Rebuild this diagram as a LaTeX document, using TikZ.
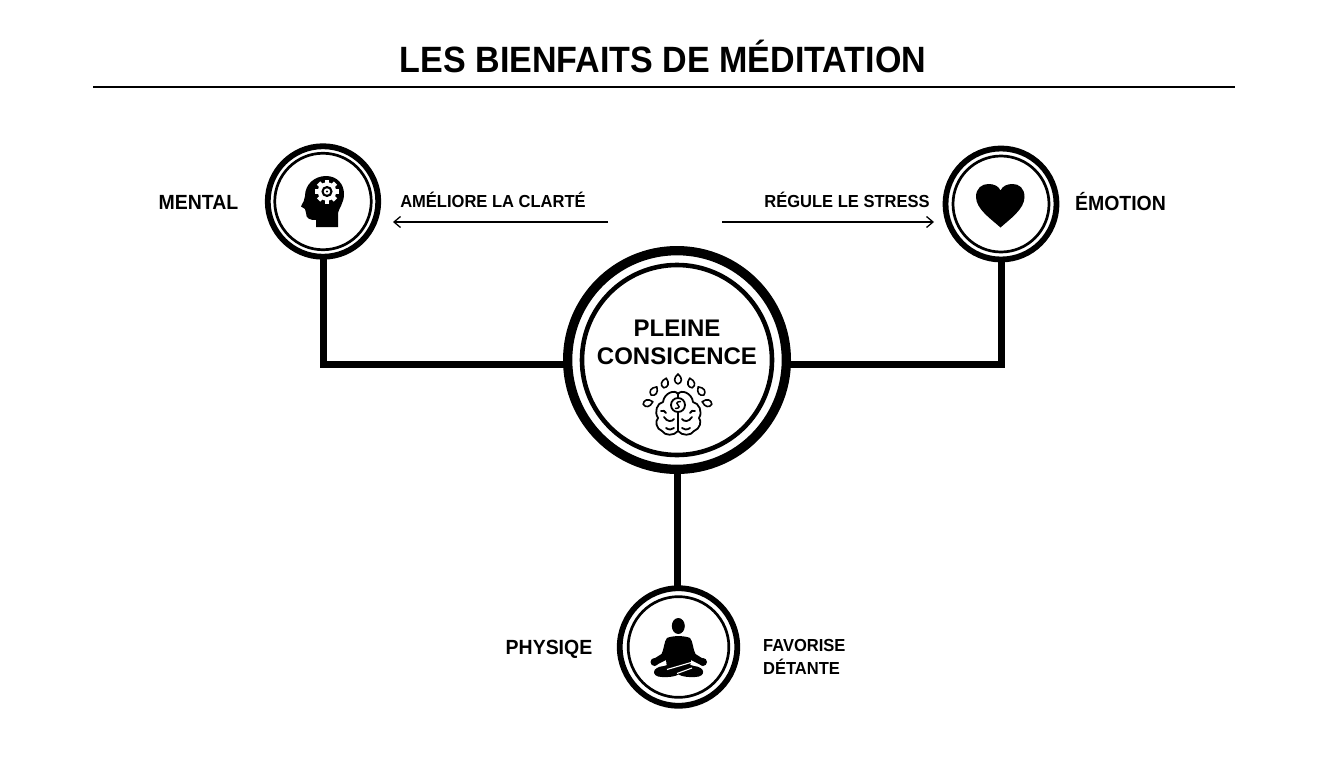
\documentclass[tikz,border=0pt]{standalone}
\usepackage{fontspec}
\setmainfont{Liberation Sans}
\newfontfamily\tallfont[FakeStretch=0.93]{Liberation Sans}
\newfontfamily\labelfont[FakeStretch=0.95]{Liberation Sans}
\usetikzlibrary{arrows.meta,calc}
\tikzset{
  x=1pt,y=-1pt,
  outerring/.style={circle,draw=black,fill=white,inner sep=0pt,outer sep=0pt},
  innerring/.style={circle,draw=black,fill=white,inner sep=0pt,outer sep=0pt},
  smallouter/.style={outerring,line width=5.8pt,minimum size=110.5pt},
  smallinner/.style={innerring,line width=2.7pt,minimum size=96.5pt},
  link/.style={line width=7pt,draw=black,line join=miter},
  thinarrow/.style={line width=1.3pt,draw=black,-{Straight Barb[length=6.5pt,width=11pt,line width=1.3pt]}},
  labelb/.style={anchor=base,font=\labelfont\bfseries\fontsize{20.5}{21}\selectfont,text=black,inner sep=0pt},
  labels/.style={anchor=base,font=\labelfont\bfseries\fontsize{17.4}{23}\selectfont,text=black,inner sep=0pt}
}
\begin{document}
\begin{tikzpicture}
\path[use as bounding box,fill=white] (0,0) rectangle (1344,768);
\node[anchor=base,font=\tallfont\bfseries\fontsize{36.6}{38}\selectfont,inner sep=0pt] (title) at (663,72.5) {LES BIENFAITS DE MÉDITATION};
\coordinate (rl) at (93,87);
\coordinate (rr) at (1235,87);
\draw[line width=2pt] (rl) -- (rr);

\node[outerring,line width=9.3pt,minimum size=218.7pt] (center) at (677,360) {};
\node[innerring,line width=4.6pt,minimum size=190pt] (centerin) at (677,360) {};
\node[smallouter] (mental) at (323,201.5) {};
\node[smallinner] (mentalin) at (323,201.5) {};
\node[smallouter,minimum size=111pt] (emotion) at (1001,204) {};
\node[smallinner,minimum size=96pt] (emotionin) at (1001,204) {};
\node[smallouter,minimum size=117.5pt] (physique) at (678.5,647) {};
\node[smallinner,minimum size=100.7pt] (physiquein) at (678.5,647) {};

\draw[link] (mental.south) |- ([yshift=-4pt]center.west);
\draw[link] (emotion.south) |- ([yshift=-4pt]center.east);
\draw[link] (center.south) -- (center.south |- physique.north);

\node[align=center,font=\bfseries\fontsize{24}{28}\selectfont,inner sep=0pt] (ctext) at (677,342) {PLEINE\\CONSICENCE};
\node[labelb] (lm) at (198.5,209) {MENTAL};
\node[labelb] (le) at (1120.5,210.5) {ÉMOTION};
\node[labelb] (lp) at (549,654.5) {PHYSIQE};
\node[labels] (tm) at (493,207.3) {AMÉLIORE LA CLARTÉ};
\node[labels] (te) at (847,207) {RÉGULE LE STRESS};
\node[labels] (tp1) at (804.3,651) {FAVORISE};
\node[labels] (tp2) at (801.5,674) {DÉTANTE};
\coordinate (am) at (608,222);
\coordinate (ae) at (722,222);
\coordinate (amt) at (393,222);
\coordinate (aet) at (934,222);
\draw[thinarrow] (am) -- (amt);
\draw[thinarrow] (ae) -- (aet);

% head with gear
\fill (316,227) -- (316,220) .. controls (310,220) and (306,219) .. (306,213)
  -- (305,209) -- (301,206.5) .. controls (303,202) and (305,200) .. (305,196)
  .. controls (305,184) and (315,176) .. (326,176)
  .. controls (337,176) and (344,184) .. (344,194)
  .. controls (344,203) and (339,208) .. (338,213) -- (338,227) -- cycle;
\foreach \a in {0,45,...,315}{
  \fill[white,rotate around={\a:(327,191.5)}] (324.7,179.5) rectangle (329.3,184);
}
\fill[white] (327,191.5) circle (9.3);
\fill[black] (327,191.5) circle (5.6);
\fill[white] (327,191.5) circle (3.2);
\fill[black] (327,191.5) circle (1.2);

% heart
\fill (1000.5,227.5) .. controls (991,219) and (976,209) .. (976,197)
  .. controls (976,188) and (982,184) .. (988.5,184)
  .. controls (994,184) and (998.5,186) .. (1000.5,190.5)
  .. controls (1002.5,186) and (1007,184) .. (1012.5,184)
  .. controls (1019,184) and (1024.5,188) .. (1024.5,197)
  .. controls (1024.5,209) and (1010,219) .. (1000.5,227.5) -- cycle;

% meditating person
\fill (678.3,626) ellipse (6.5 and 8);
\fill (667,638) .. controls (672,635.5) and (685,635.5) .. (690,638)
  .. controls (693,641) and (693,650) .. (695.5,654) -- (705,660) -- (702,665.5) -- (691,660)
  -- (690,668) -- (667,668) -- (666,660) -- (655,665.5) -- (652,660) -- (661.5,654)
  .. controls (664,650) and (664,641) .. (667,638) -- cycle;
\fill (654.5,662) circle (4);
\fill (703,662) circle (4);
\fill (664,666) .. controls (670,663.5) and (688,663.5) .. (694,666)
  .. controls (706,667) and (706,677) .. (695,677)
  .. controls (688,677.5) and (682,676.5) .. (678.5,674.5)
  .. controls (675,676.5) and (669,677.5) .. (662,677)
  .. controls (651,677) and (651,667) .. (664,666) -- cycle;
\draw[white,line width=1.1pt] (667,669.5) -- (691,662.5);
\draw[white,line width=1.1pt] (677,673.5) -- (692,668);

% brain
\begin{scope}[line width=1.8pt,line cap=round,line join=round]
\draw (678,431) .. controls (674,436) and (665,436) .. (662,431)
  .. controls (656,429) and (655,421) .. (658,418)
  .. controls (654,412) and (657,403) .. (663,402)
  .. controls (664,393) and (675,389) .. (678,394) -- cycle;
\draw (678,431) .. controls (682,436) and (691,436) .. (694,431)
  .. controls (700,429) and (702,421) .. (699,418)
  .. controls (703,412) and (699,403) .. (693,402)
  .. controls (692,393) and (681,389) .. (678,394);
\draw (664,417) .. controls (667,422) and (672,422) .. (674,419);
\draw (692,417) .. controls (689,422) and (684,422) .. (682,419);
\draw (666,428) .. controls (669,430) and (672,430) .. (674,428);
\draw (690,428) .. controls (687,430) and (684,430) .. (682,428);
\draw (661,411) .. controls (663,410) and (665,411) .. (666,413);
\draw (695,411) .. controls (693,410) and (691,411) .. (690,413);
\draw[fill=white] (678,405) circle (7);
\draw[line width=1.5pt] (680.5,401.5) .. controls (676,401.5) and (676,404.5) .. (678,405) .. controls (680,405.5) and (680,408.5) .. (675.5,408.5);
\foreach \x/\y/\r in {678/379/0,665/383/-15,691/383/15,654/391/-35,701/391/35,648/403/-75,707/403/75}{
  \draw[line width=1.6pt,rotate around={\r:(\x,\y)}] (\x,\y-5) .. controls (\x+4.8,\y-1) and (\x+4.2,\y+3.5) .. (\x,\y+5) .. controls (\x-4.2,\y+3.5) and (\x-4.8,\y-1) .. (\x,\y-5) -- cycle;
}
\end{scope}
\end{tikzpicture}
\end{document}
